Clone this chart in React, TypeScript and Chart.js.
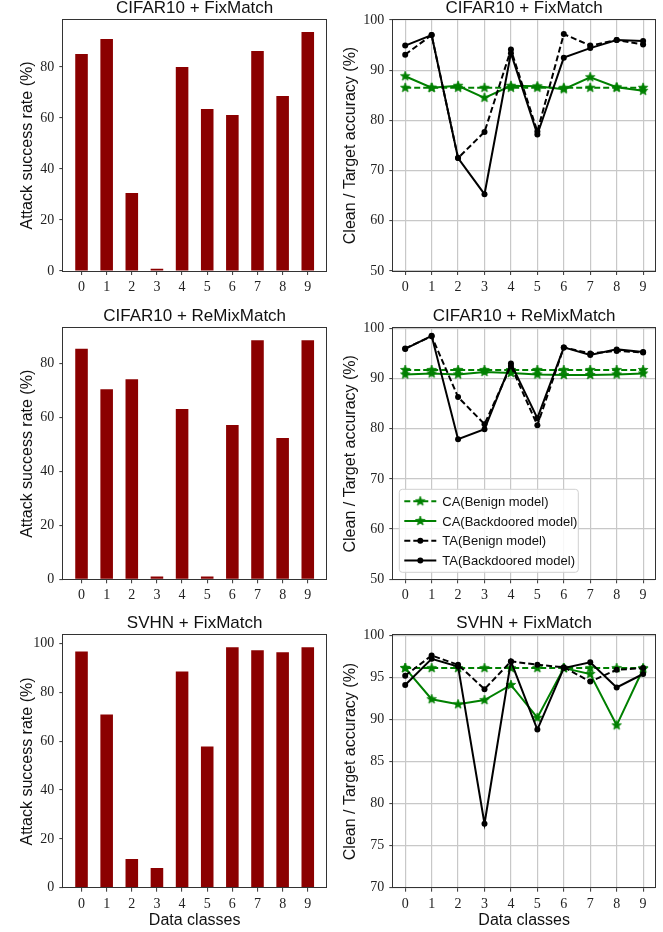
import React, { useEffect, useRef } from "react";
import { Chart, registerables } from "chart.js";

Chart.register(...registerables);

// ---------------- DATA ----------------
const classes = ["0", "1", "2", "3", "4", "5", "6", "7", "8", "9"];

const titles = ["CIFAR10 + FixMatch", "CIFAR10 + ReMixMatch", "SVHN + FixMatch"];
const asrLabel = "Attack success rate (%)";
const accLabel = "Clean / Target accuracy (%)";
const xLabel = "Data classes";
const seriesNames = [
  "CA(Benign model)",
  "CA(Backdoored model)",
  "TA(Benign model)",
  "TA(Backdoored model)",
];

// Attack success rate (bars)
const asrCifarFix = [85.1, 91.0, 30.6, 0.9, 80.0, 63.5, 61.2, 86.2, 68.6, 93.7];
const asrCifarRemix = [85.5, 70.5, 74.2, 1.0, 63.2, 1.0, 57.2, 88.7, 52.4, 88.7];
const asrSvhnFix = [96.8, 71.0, 11.8, 8.1, 88.6, 57.8, 98.5, 97.3, 96.5, 98.5];

// CIFAR10 + FixMatch accuracies
const caBenignCifarFix = [86.5, 86.5, 86.5, 86.5, 86.5, 86.5, 86.5, 86.5, 86.5, 86.5];
const caBackCifarFix = [88.8, 86.5, 86.9, 84.5, 86.9, 86.8, 86.2, 88.6, 86.6, 85.9];
const taBenignCifarFix = [93.1, 97.0, 72.5, 77.7, 94.1, 77.8, 97.2, 94.9, 96.0, 95.1];
const taBackCifarFix = [94.9, 97.0, 72.5, 65.3, 93.4, 77.2, 92.5, 94.4, 96.0, 95.8];

// CIFAR10 + ReMixMatch accuracies
const caBenignCifarRemix = [91.7, 91.7, 91.7, 91.7, 91.7, 91.7, 91.7, 91.7, 91.7, 91.7];
const caBackCifarRemix = [90.8, 91.0, 90.8, 91.3, 91.1, 90.8, 90.7, 90.7, 90.8, 91.0];
const taBenignCifarRemix = [96.0, 98.4, 86.3, 80.9, 92.5, 80.7, 96.2, 95.0, 95.5, 95.2];
const taBackCifarRemix = [95.9, 98.5, 77.9, 79.9, 93.0, 82.1, 96.2, 94.7, 95.8, 95.3];

// SVHN + FixMatch accuracies
const caBenignSvhnFix = [96.1, 96.1, 96.1, 96.1, 96.1, 96.1, 96.1, 96.1, 96.1, 96.1];
const caBackSvhnFix = [96.1, 92.4, 91.8, 92.3, 94.1, 90.2, 96.1, 95.4, 89.3, 96.0];
const taBenignSvhnFix = [95.2, 97.6, 96.5, 93.6, 96.9, 96.5, 96.2, 94.5, 95.9, 96.1];
const taBackSvhnFix = [94.1, 97.2, 96.3, 77.6, 96.9, 88.8, 96.1, 96.8, 93.8, 95.4];

// axis ranges / ticks
const asrMax = [98.4, 93.1, 103.4];
const asrStep = [20, 20, 20];
const accMin = [50, 50, 70];
const accMax = [100, 100, 100];
const accStep = [10, 10, 5];

// ---------------- STYLE ----------------
const SANS = "'Liberation Sans', Arial, sans-serif";
const SERIF = "'Liberation Serif', 'Times New Roman', serif";
const BAR = "#8b0000";
const GREEN = "#008000";
const BLACK = "#000000";
const SPINE = "#333333";
const GRID = "#c8c8c8";

function makeStar(color: string, r: number) {
  const size = Math.ceil(r * 2 + 2);
  const c = document.createElement("canvas");
  c.width = size;
  c.height = size;
  const ctx = c.getContext("2d")!;
  const cx = size / 2;
  const cy = size / 2;
  const inner = r * 0.42;
  ctx.beginPath();
  for (let i = 0; i < 10; i++) {
    const rad = i % 2 === 0 ? r : inner;
    const a = -Math.PI / 2 + (i * Math.PI) / 5;
    const x = cx + rad * Math.cos(a);
    const y = cy + rad * Math.sin(a);
    if (i === 0) ctx.moveTo(x, y);
    else ctx.lineTo(x, y);
  }
  ctx.closePath();
  ctx.fillStyle = color;
  ctx.fill();
  ctx.strokeStyle = color;
  ctx.lineWidth = 0.8;
  ctx.stroke();
  return c;
}

type Region = { x: number; y: number; w: number; h: number };
type Area = { l: number; t: number; r: number; b: number };

const boxPlugin = {
  id: "boxAndTitle",
  afterDraw(chart: any) {
    const o = chart.options.plugins.boxAndTitle;
    if (!o) return;
    const { ctx, chartArea: a } = chart;
    ctx.save();
    ctx.strokeStyle = SPINE;
    ctx.lineWidth = 1;
    ctx.strokeRect(Math.round(a.left) - 0.5, Math.round(a.top) - 0.5, Math.round(a.right - a.left) + 1, Math.round(a.bottom - a.top) + 1);
    ctx.fillStyle = "#111";
    ctx.font = `17px ${SANS}`;
    ctx.textAlign = "center";
    ctx.textBaseline = "alphabetic";
    ctx.fillText(o.title, (a.left + a.right) / 2, a.top - 7);
    ctx.restore();
  },
};

const legendPlugin = {
  id: "insideLegend",
  afterDraw(chart: any) {
    const o = chart.options.plugins.insideLegend;
    if (!o || !o.show) return;
    const { ctx, chartArea: a } = chart;
    const bx = a.left + 6;
    const bw = 179;
    const bh = 83;
    const by = a.bottom - 7 - bh;
    ctx.save();
    ctx.beginPath();
    const rr = 3;
    ctx.moveTo(bx + rr, by);
    ctx.lineTo(bx + bw - rr, by);
    ctx.quadraticCurveTo(bx + bw, by, bx + bw, by + rr);
    ctx.lineTo(bx + bw, by + bh - rr);
    ctx.quadraticCurveTo(bx + bw, by + bh, bx + bw - rr, by + bh);
    ctx.lineTo(bx + rr, by + bh);
    ctx.quadraticCurveTo(bx, by + bh, bx, by + bh - rr);
    ctx.lineTo(bx, by + rr);
    ctx.quadraticCurveTo(bx, by, bx + rr, by);
    ctx.closePath();
    ctx.fillStyle = "rgba(255,255,255,0.85)";
    ctx.fill();
    ctx.strokeStyle = "#d0d0d0";
    ctx.lineWidth = 1;
    ctx.stroke();
    const ds = chart.data.datasets;
    ds.forEach((d: any, i: number) => {
      const y = by + 12 + i * 19.7;
      ctx.beginPath();
      ctx.setLineDash(d.borderDash || []);
      ctx.strokeStyle = d.borderColor;
      ctx.lineWidth = d.borderWidth;
      ctx.moveTo(bx + 5, y);
      ctx.lineTo(bx + 37, y);
      ctx.stroke();
      ctx.setLineDash([]);
      const mx = bx + 21;
      if (d.pointStyle && typeof d.pointStyle !== "string") {
        const img = d.pointStyle;
        ctx.drawImage(img, mx - img.width / 2, y - img.height / 2);
      } else {
        ctx.beginPath();
        ctx.arc(mx, y, d.pointRadius, 0, Math.PI * 2);
        ctx.fillStyle = d.pointBackgroundColor;
        ctx.fill();
      }
      ctx.fillStyle = "#111";
      ctx.font = `13px ${SANS}`;
      ctx.textAlign = "left";
      ctx.textBaseline = "middle";
      ctx.fillText(d.label, bx + 43, y + 1);
    });
    ctx.restore();
  },
};

function baseScales(reg: Region, area: Area, opts: any) {
  const yW = area.l - reg.x;
  const xH = reg.y + reg.h - area.b;
  return {
    x: {
      type: "linear",
      min: opts.xmin,
      max: opts.xmax,
      offset: false,
      afterFit: (s: any) => {
        s.height = xH;
      },
      ticks: {
        stepSize: 1,
        includeBounds: false,
        autoSkip: false,
        maxRotation: 0,
        padding: 4,
        color: "#222",
        font: { family: SERIF, size: 14 },
        callback: (v: any) => classes[Math.round(v)] ?? "",
      },
      grid: {
        display: true,
        offset: false,
        drawOnChartArea: opts.grid,
        drawTicks: true,
        tickLength: 4,
        color: GRID,
        lineWidth: 1.2,
        tickColor: SPINE,
        tickWidth: 1,
      },
      border: { display: false },
      title: {
        display: !!opts.xTitle,
        text: opts.xTitle || "",
        color: "#111",
        font: { family: SANS, size: 16 },
        padding: { top: 0, bottom: 1.5 },
      },
    },
    y: {
      type: "linear",
      min: opts.ymin,
      max: opts.ymax,
      afterFit: (s: any) => {
        s.width = yW;
      },
      ticks: {
        stepSize: opts.ystep,
        includeBounds: false,
        padding: 5,
        color: "#222",
        font: { family: SERIF, size: 14 },
      },
      grid: {
        display: true,
        drawOnChartArea: opts.grid,
        drawTicks: true,
        tickLength: 4,
        color: GRID,
        lineWidth: 1.2,
        tickColor: SPINE,
        tickWidth: 1,
      },
      border: { display: false },
      title: {
        display: true,
        text: opts.yTitle,
        color: "#111",
        font: { family: SANS, size: 16 },
        padding: { top: opts.yTitleOffset - 9.6, bottom: 0 },
      },
    },
  };
}

type Spec = {
  kind: "bar" | "line";
  reg: Region;
  area: Area;
  title: string;
  values?: number[];
  lines?: number[][];
  ymin: number;
  ymax: number;
  ystep: number;
  xTitle?: string;
  legend?: boolean;
};

function buildConfig(spec: Spec): any {
  const { reg, area } = spec;
  const padding = {
    left: 0,
    top: area.t - reg.y,
    right: reg.x + reg.w - area.r,
    bottom: 0,
  };
  const isBar = spec.kind === "bar";
  const scales = baseScales(reg, area, {
    xmin: isBar ? -0.725 : -0.45,
    xmax: isBar ? 9.725 : 9.45,
    ymin: spec.ymin,
    ymax: spec.ymax,
    ystep: spec.ystep,
    grid: !isBar,
    yTitle: isBar ? asrLabel : accLabel,
    yTitleOffset: isBar ? 28 : 20.5,
    xTitle: spec.xTitle,
  });
  let datasets: any[];
  if (isBar) {
    datasets = [
      {
        label: "ASR",
        data: spec.values!.map((v, i) => ({ x: i, y: v })),
        backgroundColor: BAR,
        borderWidth: 0,
        categoryPercentage: 1,
        barPercentage: 0.5,
      },
    ];
  } else {
    const star = makeStar(GREEN, 5);
    const styles = [
      { color: GREEN, dash: [6, 3], star: true, order: 3 },
      { color: GREEN, dash: [], star: true, order: 2 },
      { color: BLACK, dash: [6, 3], star: false, order: 1 },
      { color: BLACK, dash: [], star: false, order: 0 },
    ];
    datasets = spec.lines!.map((vals, k) => {
      const st = styles[k];
      return {
        label: seriesNames[k],
        data: vals.map((v, i) => ({ x: i, y: v })),
        borderColor: st.color,
        backgroundColor: st.color,
        borderWidth: 2,
        borderDash: st.dash,
        pointStyle: st.star ? star : "circle",
        pointRadius: st.star ? 5 : 3,
        pointBackgroundColor: st.color,
        pointBorderColor: st.color,
        pointBorderWidth: 0,
        tension: 0,
        fill: false,
        order: st.order,
        clip: false,
      };
    });
  }
  return {
    type: isBar ? "bar" : "line",
    data: { datasets },
    options: {
      animation: false,
      responsive: false,
      devicePixelRatio: 1,
      layout: { padding },
      scales,
      plugins: {
        legend: { display: false },
        tooltip: { enabled: false },
        title: { display: false },
        boxAndTitle: { title: spec.title },
        insideLegend: { show: !!spec.legend },
      },
    },
    plugins: [boxPlugin, legendPlugin],
  };
}

const rows = [
  { y: 0, h: 300, t: 20, b: 271 },
  { y: 300, h: 310, t: 328.3, b: 579.3 },
  { y: 610, h: 322, t: 635.3, b: 887.7 },
];
const cols = [
  { x: 0, w: 330, l: 63.3, r: 326 },
  { x: 330, w: 333, l: 393.3, r: 655 },
];

const asrData = [asrCifarFix, asrCifarRemix, asrSvhnFix];
const accData = [
  [caBenignCifarFix, caBackCifarFix, taBenignCifarFix, taBackCifarFix],
  [caBenignCifarRemix, caBackCifarRemix, taBenignCifarRemix, taBackCifarRemix],
  [caBenignSvhnFix, caBackSvhnFix, taBenignSvhnFix, taBackSvhnFix],
];

const specs: Spec[] = [];
rows.forEach((row, ri) => {
  cols.forEach((col, ci) => {
    const reg = { x: col.x, y: row.y, w: col.w, h: row.h };
    const area = { l: col.l, t: row.t, r: col.r, b: row.b };
    if (ci === 0) {
      specs.push({
        kind: "bar",
        reg,
        area,
        title: titles[ri],
        values: asrData[ri],
        ymin: 0,
        ymax: asrMax[ri],
        ystep: asrStep[ri],
        xTitle: ri === 2 ? xLabel : undefined,
      });
    } else {
      specs.push({
        kind: "line",
        reg,
        area,
        title: titles[ri],
        lines: accData[ri],
        ymin: accMin[ri],
        ymax: accMax[ri],
        ystep: accStep[ri],
        xTitle: ri === 2 ? xLabel : undefined,
        legend: ri === 1,
      });
    }
  });
});

function Panel({ spec }: { spec: Spec }) {
  const ref = useRef<HTMLCanvasElement>(null);
  useEffect(() => {
    const c = ref.current!;
    const chart = new Chart(c, buildConfig(spec));
    return () => chart.destroy();
  }, [spec]);
  return (
    <div
      style={{
        position: "absolute",
        left: spec.reg.x,
        top: spec.reg.y,
        width: spec.reg.w,
        height: spec.reg.h,
      }}
    >
      <canvas
        ref={ref}
        width={spec.reg.w}
        height={spec.reg.h}
        style={{ width: spec.reg.w, height: spec.reg.h, display: "block" }}
      />
    </div>
  );
}

export default function App() {
  return (
    <div
      style={{
        position: "absolute",
        left: 0,
        top: 0,
        width: 663,
        height: 932,
        background: "#ffffff",
        overflow: "hidden",
      }}
    >
      {specs.map((s, i) => (
        <Panel key={i} spec={s} />
      ))}
    </div>
  );
}
